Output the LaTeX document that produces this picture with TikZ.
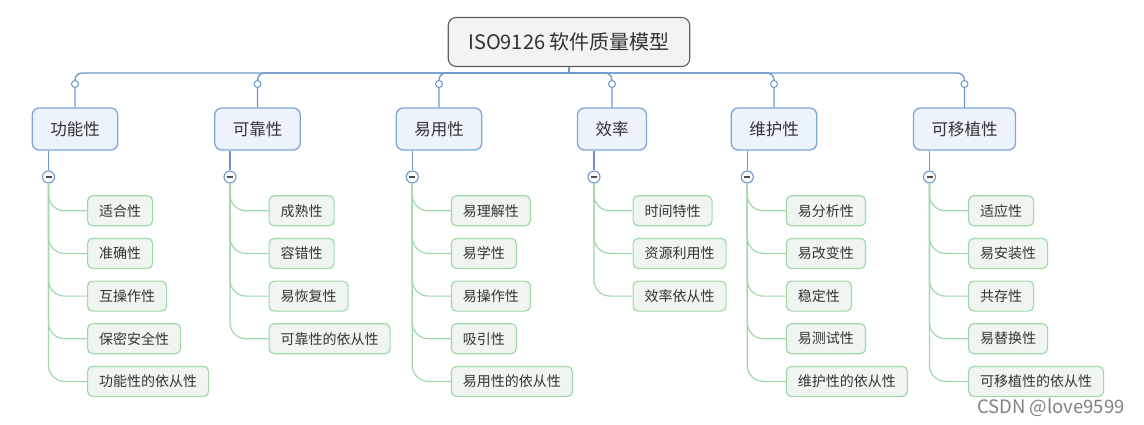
\documentclass[tikz,border=0pt]{standalone}
\usepackage{fontspec}
\setmainfont{Noto Sans CJK SC}
\usetikzlibrary{positioning}
\definecolor{rootfill}{HTML}{F3F3F3}
\definecolor{rootline}{HTML}{5E5E5E}
\definecolor{catfill}{HTML}{EDF3FC}
\definecolor{catline}{HTML}{7EA6D8}
\definecolor{barline}{HTML}{6B96CF}
\definecolor{leaffill}{HTML}{EEF6EF}
\definecolor{leafline}{HTML}{A2D7AC}
\definecolor{inkgray}{HTML}{333333}

\begin{document}
\begin{tikzpicture}[
  x=1pt,y=-1pt,
  text=inkgray,
  root/.style={rounded corners=8pt,draw=rootline,fill=rootfill,line width=1.1pt,
               minimum height=49pt,inner xsep=20pt,font=\fontsize{20}{24}\selectfont},
  cat/.style={rounded corners=7pt,draw=catline,fill=catfill,line width=1.3pt,
              minimum height=42pt,inner xsep=18pt,font=\fontsize{16.5}{20}\selectfont},
  leafbox/.style={rounded corners=5pt,draw=leafline,fill=leaffill,line width=1.2pt,
                  minimum height=30pt,inner xsep=11.5pt,anchor=west,
                  font=\fontsize{14}{17}\selectfont},
  knob/.style={circle,draw=barline,fill=white,line width=1pt,minimum size=7pt,inner sep=0pt},
  fold/.style={circle,draw=barline,fill=white,line width=1.1pt,minimum size=12pt,inner sep=0pt,
               path picture={\draw[gray!60!black,line width=1.6pt]
                 ([xshift=-3pt]path picture bounding box.center) --
                 ([xshift=3pt]path picture bounding box.center);}},
  bar/.style={draw=barline,line width=1.3pt},
  barr/.style={draw=barline,line width=1.3pt,rounded corners=7pt},
  leaf/.style={draw=leafline,line width=1.2pt,rounded corners=16pt}
]
\useasboundingbox (0,0) rectangle (1144,425);

% root and the six characteristics
\node[root] (iso) at (569,42)  {ISO9126 软件质量模型};
\coordinate (hub) at (569,73);
\node[cat] (gn) at (75,129)    {功能性};
\node[cat] (kk) at (257.5,129) {可靠性};
\node[cat] (yy) at (439,129)   {易用性};
\node[cat] (xl) at (612,129)   {效率};
\node[cat] (wh) at (774,129)   {维护性};
\node[cat] (ky) at (964.5,129) {可移植性};

\draw[bar] (iso.south) -- (hub);
\draw[barr] (hub) -| (gn.north); \draw[barr] (hub) -| (kk.north); \draw[barr] (hub) -| (yy.north);
\draw[barr] (hub) -| (xl.north); \draw[barr] (hub) -| (wh.north); \draw[barr] (hub) -| (ky.north);
\node[knob] at (gn.north |- 0,84) {}; \node[knob] at (kk.north |- 0,84) {};
\node[knob] at (yy.north |- 0,84) {}; \node[knob] at (xl.north |- 0,84) {};
\node[knob] at (wh.north |- 0,84) {}; \node[knob] at (ky.north |- 0,84) {};

% fold buttons
\node[fold] (gnc) at (48.5,177)  {};
\node[fold] (kkc) at (230,177)   {};
\node[fold] (yyc) at (412.3,177) {};
\node[fold] (xlc) at (594,177)   {};
\node[fold] (whc) at (747.3,177) {};
\node[fold] (kyc) at (929.5,177) {};
\draw[bar] (gnc |- gn.south) -- (gnc.north); \draw[bar] (kkc |- kk.south) -- (kkc.north);
\draw[bar] (yyc |- yy.south) -- (yyc.north); \draw[bar] (xlc |- xl.south) -- (xlc.north);
\draw[bar] (whc |- wh.south) -- (whc.north); \draw[bar] (kyc |- ky.south) -- (kyc.north);

% sub-characteristics
\node[leafbox] (gn1) at (87,210.8)  {适合性};
\node[leafbox] (gn2) at (87,253.4)  {准确性};
\node[leafbox] (gn3) at (87,296.1)  {互操作性};
\node[leafbox] (gn4) at (87,338.7)  {保密安全性};
\node[leafbox] (gn5) at (87,381.4)  {功能性的依从性};

\node[leafbox] (kk1) at (268.5,210.8) {成熟性};
\node[leafbox] (kk2) at (268.5,253.4) {容错性};
\node[leafbox] (kk3) at (268.5,296.1) {易恢复性};
\node[leafbox] (kk4) at (268.5,338.7) {可靠性的依从性};

\node[leafbox] (yy1) at (450.8,210.8) {易理解性};
\node[leafbox] (yy2) at (450.8,253.4) {易学性};
\node[leafbox] (yy3) at (450.8,296.1) {易操作性};
\node[leafbox] (yy4) at (450.8,338.7) {吸引性};
\node[leafbox] (yy5) at (450.8,381.4) {易用性的依从性};

\node[leafbox] (xl1) at (632.5,210.8) {时间特性};
\node[leafbox] (xl2) at (632.5,253.4) {资源利用性};
\node[leafbox] (xl3) at (632.5,296.1) {效率依从性};

\node[leafbox] (wh1) at (785.8,210.8) {易分析性};
\node[leafbox] (wh2) at (785.8,253.4) {易改变性};
\node[leafbox] (wh3) at (785.8,296.1) {稳定性};
\node[leafbox] (wh4) at (785.8,338.7) {易测试性};
\node[leafbox] (wh5) at (785.8,381.4) {维护性的依从性};

\node[leafbox] (ky1) at (968,210.8) {适应性};
\node[leafbox] (ky2) at (968,253.4) {易安装性};
\node[leafbox] (ky3) at (968,296.1) {共存性};
\node[leafbox] (ky4) at (968,338.7) {易替换性};
\node[leafbox] (ky5) at (968,381.4) {可移植性的依从性};

\draw[leaf] (gnc.south) |- (gn1.west); \draw[leaf] (gnc.south) |- (gn2.west);
\draw[leaf] (gnc.south) |- (gn3.west); \draw[leaf] (gnc.south) |- (gn4.west);
\draw[leaf] (gnc.south) |- (gn5.west);
\draw[leaf] (kkc.south) |- (kk1.west); \draw[leaf] (kkc.south) |- (kk2.west);
\draw[leaf] (kkc.south) |- (kk3.west); \draw[leaf] (kkc.south) |- (kk4.west);
\draw[leaf] (yyc.south) |- (yy1.west); \draw[leaf] (yyc.south) |- (yy2.west);
\draw[leaf] (yyc.south) |- (yy3.west); \draw[leaf] (yyc.south) |- (yy4.west);
\draw[leaf] (yyc.south) |- (yy5.west);
\draw[leaf] (xlc.south) |- (xl1.west); \draw[leaf] (xlc.south) |- (xl2.west);
\draw[leaf] (xlc.south) |- (xl3.west);
\draw[leaf] (whc.south) |- (wh1.west); \draw[leaf] (whc.south) |- (wh2.west);
\draw[leaf] (whc.south) |- (wh3.west); \draw[leaf] (whc.south) |- (wh4.west);
\draw[leaf] (whc.south) |- (wh5.west);
\draw[leaf] (kyc.south) |- (ky1.west); \draw[leaf] (kyc.south) |- (ky2.west);
\draw[leaf] (kyc.south) |- (ky3.west); \draw[leaf] (kyc.south) |- (ky4.west);
\draw[leaf] (kyc.south) |- (ky5.west);

% watermark
\node[text=gray,font=\fontsize{18.5}{22}\selectfont] (mark) at (1051,408) {CSDN @love9599};
\end{tikzpicture}
\end{document}
